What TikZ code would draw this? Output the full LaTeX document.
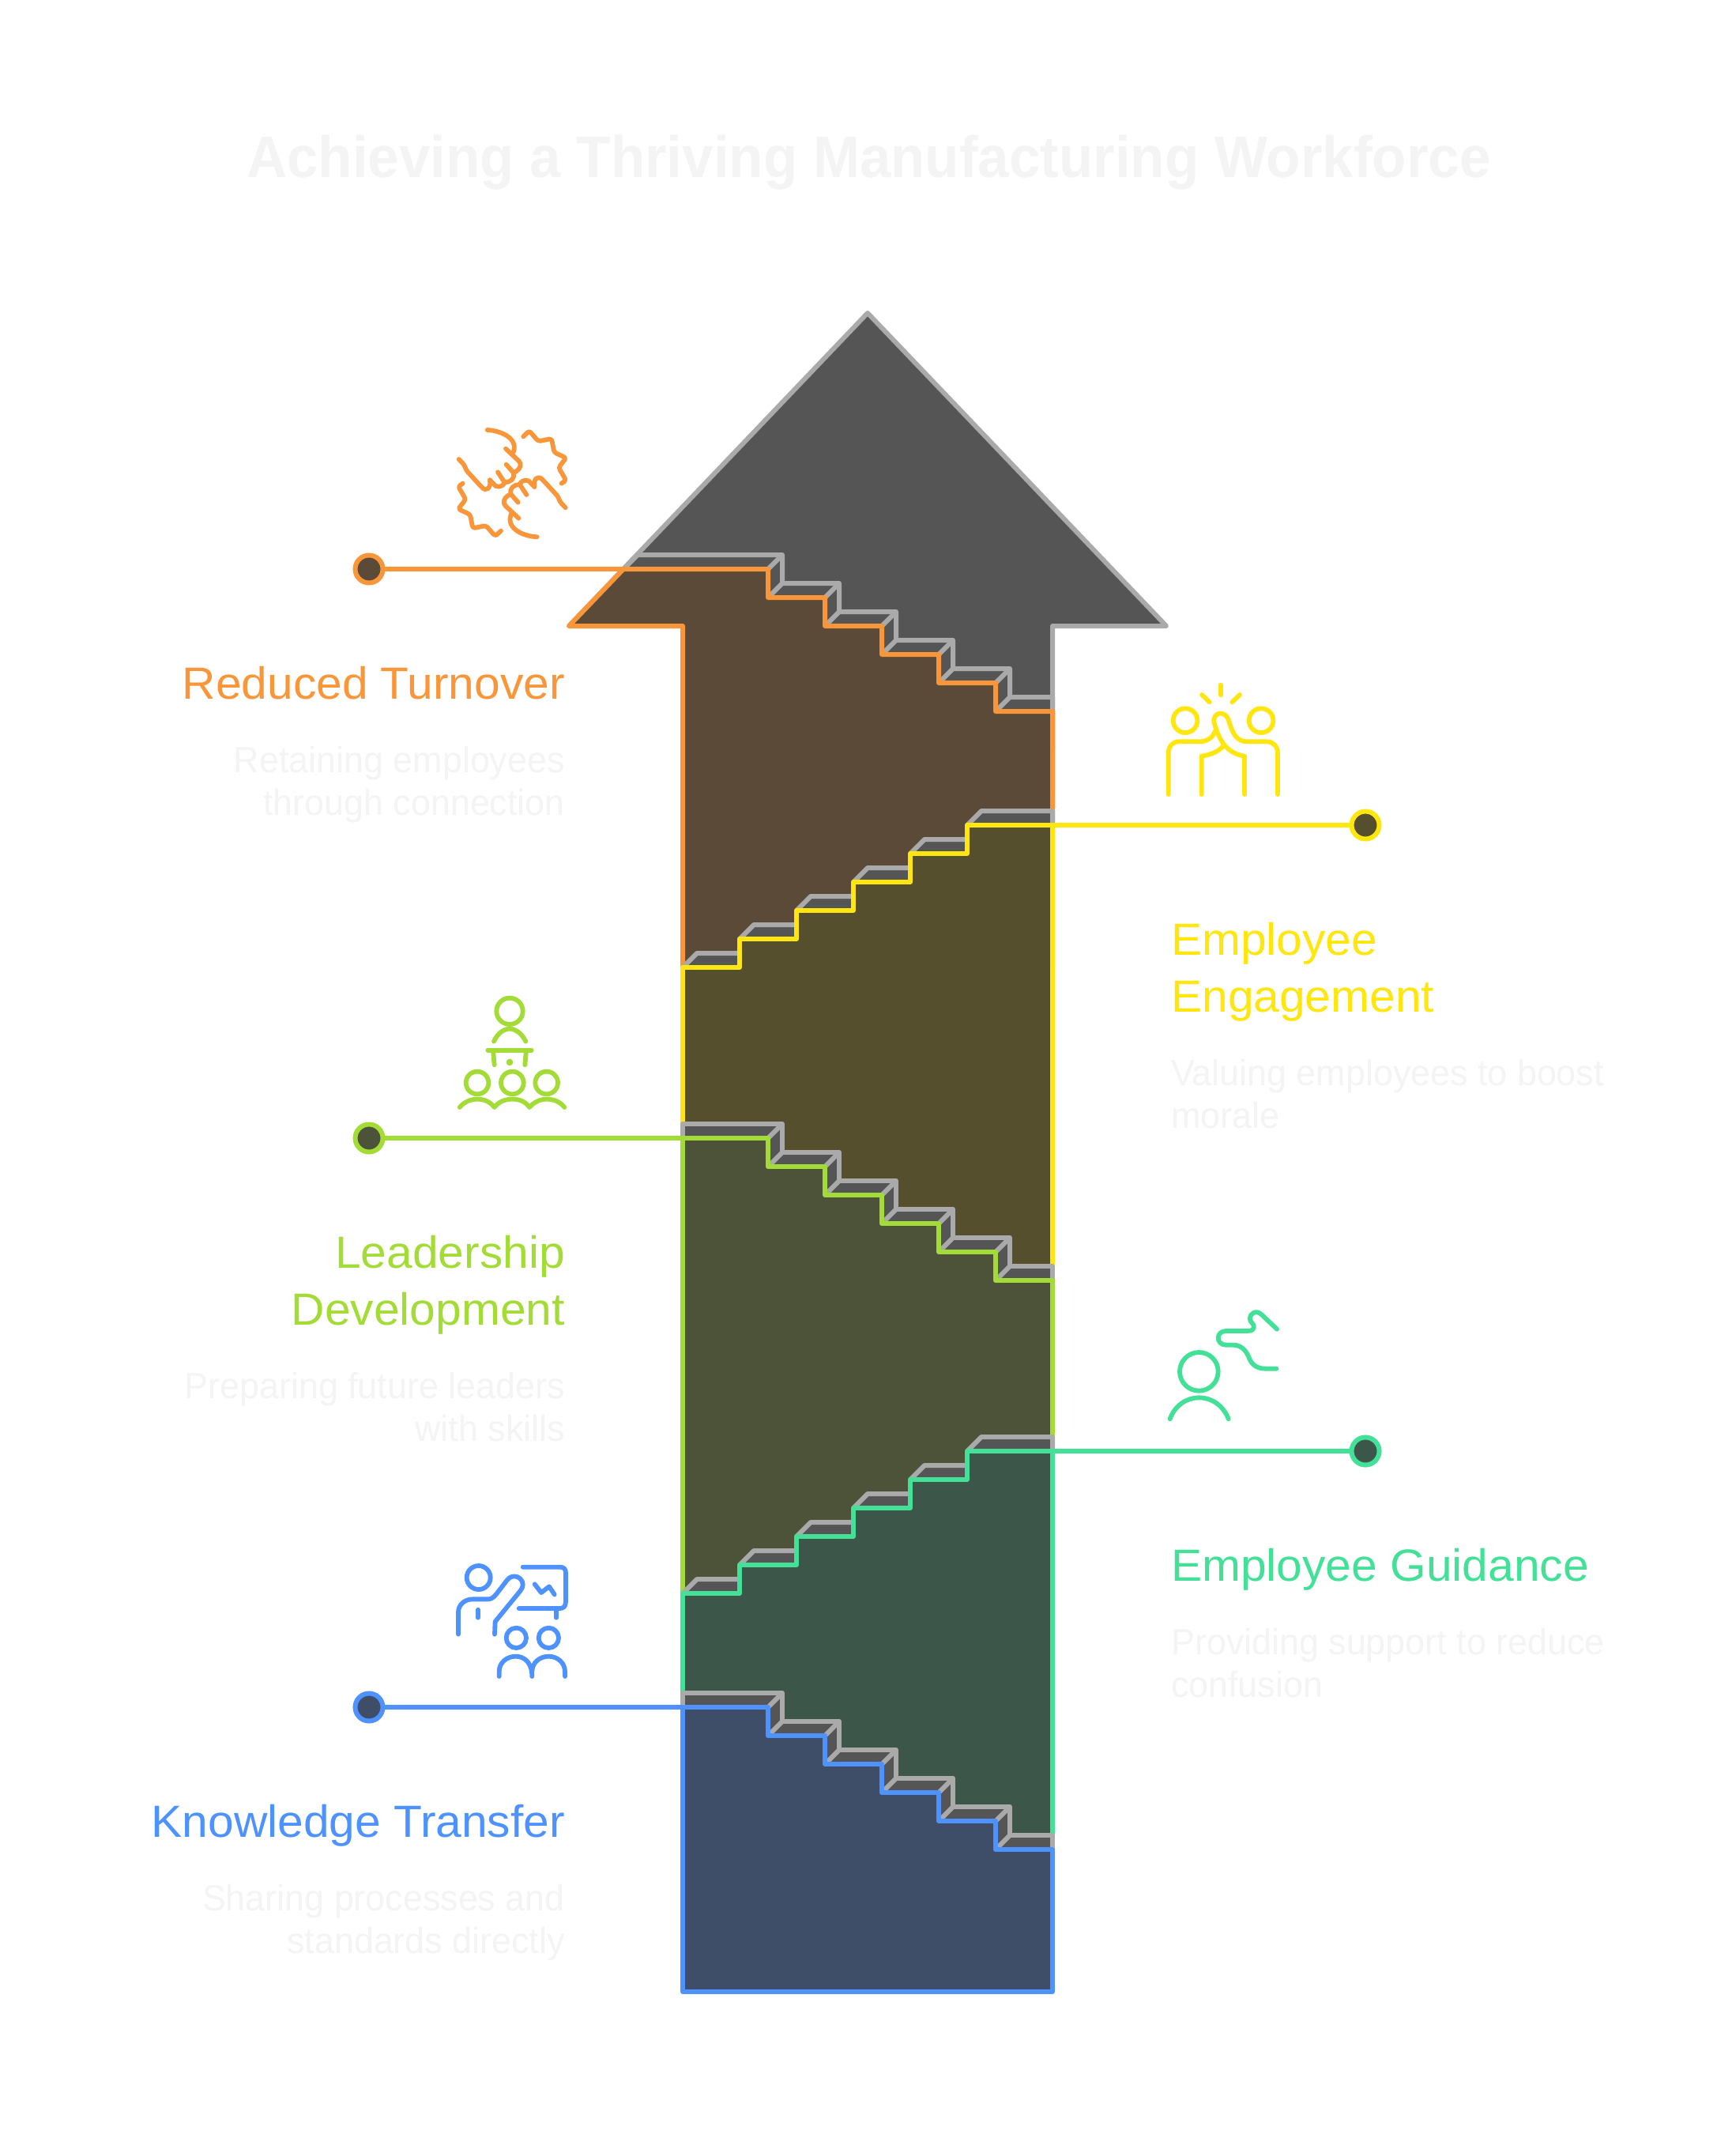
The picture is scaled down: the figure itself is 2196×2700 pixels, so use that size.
\documentclass[tikz,border=0pt]{standalone}
\usepackage{fontspec}
\setmainfont{Liberation Sans}
\newfontfamily\titlefont[FakeStretch=0.958]{Liberation Sans}
\newfontfamily\headfont[FakeStretch=1.03]{Liberation Sans}
\newfontfamily\bodyfont[FakeStretch=0.975]{Liberation Sans}
\definecolor{orangeline}{HTML}{F9963A}
\definecolor{orangefill}{HTML}{5C4A38}
\definecolor{yellowline}{HTML}{FFE60F}
\definecolor{yellowfill}{HTML}{554F2E}
\definecolor{limeline}{HTML}{A3DB37}
\definecolor{limefill}{HTML}{4D5339}
\definecolor{greenline}{HTML}{43E097}
\definecolor{greenfill}{HTML}{3C5649}
\definecolor{blueline}{HTML}{4E92FF}
\definecolor{bluefill}{HTML}{3E4D68}
\definecolor{stepfill}{HTML}{555555}
\definecolor{stepline}{HTML}{AAAAAA}
\definecolor{faint}{HTML}{F4F4F4}
% one flight of stairs, walked from the first corner
\newcommand{\downflight}{-- ++(0,36) -- ++(72,0) -- ++(0,36) -- ++(72,0) -- ++(0,36) -- ++(72,0)
  -- ++(0,36) -- ++(72,0) -- ++(0,36) -- ++(72,0)}
\newcommand{\upflight}{-- ++(72,0) -- ++(0,-36) -- ++(72,0) -- ++(0,-36) -- ++(72,0) -- ++(0,-36)
  -- ++(72,0) -- ++(0,-36) -- ++(72,0) -- ++(0,-36) -- ++(108,0)}
\newcommand{\downback}{-- ++(0,36) -- ++(72,0) -- ++(0,36) -- ++(72,0) -- ++(0,36) -- ++(72,0)
  -- ++(0,36) -- ++(72,0) -- ++(0,36) -- ++(54,0)}
\newcommand{\downlinks}[1]{\foreach \i in {0,...,4}{
  \draw[stepedge] (972+72*\i,#1+36*\i) -- ++(18,-18);
  \draw[stepedge] (972+72*\i,#1+36+36*\i) -- ++(18,-18);}}
\newcommand{\uptreads}[1]{\foreach \i in {0,...,4}{
  \draw[stepedge,fill=stepfill] (864+72*\i,#1-36*\i) -- ++(18,-18) -- ++(54,0) -- ++(0,18) -- cycle;}
  \draw[stepedge,fill=stepfill] (1224,#1-180) -- ++(18,-18) -- ++(90,0) -- ++(0,18) -- cycle;}
\begin{document}
\begin{tikzpicture}[x=1pt,y=-1pt,
  stepedge/.style={draw=stepline, line width=6pt, line join=round},
  band/.style 2 args={draw=#1, fill=#2, line width=6pt, line join=round},
  leader/.style={draw=#1, line width=6pt},
  dot/.style 2 args={circle, draw=#1, fill=#2, line width=6pt, inner sep=0pt,
    minimum size=35pt, outer sep=0pt},
  icon/.style={draw=#1, line width=5.8pt, line cap=round, line join=round},
  heading/.style={text=#1, inner sep=0pt, font=\headfont\fontsize{57}{72}\selectfont},
  headl/.style={heading=#1, anchor=base east, align=right},
  headr/.style={heading=#1, anchor=base west, align=left},
  bodyl/.style={text=faint, inner sep=0pt, anchor=base east, align=right,
    font=\bodyfont\fontsize{46}{54}\selectfont},
  bodyr/.style={text=faint, inner sep=0pt, anchor=base west, align=left,
    font=\bodyfont\fontsize{46}{54}\selectfont}
]
  \useasboundingbox[fill=white] (0,0) rectangle (2196,2700);
  \node[text=faint, inner sep=0pt, anchor=base west, font=\titlefont\bfseries\fontsize{74}{74}\selectfont]
        (title) at (312,224) {Achieving a Thriving Manufacturing Workforce};
  % the arrow, then the bands from top to bottom
  \draw[stepedge, fill=stepfill] (1098,396) -- (1476,792) -- (1332,792) -- (1332,1000)
        -- (864,1000) -- (864,792) -- (720,792) -- cycle;
  \draw[stepedge, fill=stepfill] (789,720) -- (807,702) -- (990,702) \downback -- (1332,950)
        -- (864,950) -- (864,792) -- cycle;
  \downlinks{720}
  \draw[band={orangeline}{orangefill}] (720,792) -- (789,720) -- (972,720) \downflight -- (1332,1224)
        -- (864,1224) -- (864,792) -- cycle;
  \uptreads{1224}
  \draw[band={yellowline}{yellowfill}] (864,1224) \upflight -- (1332,1620) -- (864,1620) -- cycle;
  \draw[stepedge, fill=stepfill] (864,1440) -- (864,1422) -- (990,1422) \downback -- (1332,1620)
        -- (864,1620) -- cycle;
  \downlinks{1440}
  \draw[band={limeline}{limefill}] (864,1440) -- (972,1440) \downflight -- (1332,2016) -- (864,2016) -- cycle;
  \uptreads{2016}
  \draw[band={greenline}{greenfill}] (864,2016) \upflight -- (1332,2340) -- (864,2340) -- cycle;
  \draw[stepedge, fill=stepfill] (864,2160) -- (864,2142) -- (990,2142) \downback -- (1332,2340)
        -- (864,2340) -- cycle;
  \downlinks{2160}
  \draw[band={blueline}{bluefill}] (864,2160) -- (972,2160) \downflight -- (1332,2520) -- (864,2520) -- cycle;
  % leaders
  \coordinate (turnoverend) at (789,720);
  \coordinate (engageend) at (1332,1044);
  \coordinate (leaderend) at (864,1440);
  \coordinate (guideend) at (1332,1836);
  \coordinate (transferend) at (864,2160);
  \node[dot={orangeline}{orangefill}] (turnoverdot) at (467,720) {};
  \node[dot={yellowline}{yellowfill}] (engagedot) at (1728,1044) {};
  \node[dot={limeline}{limefill}] (leaderdot) at (467,1440) {};
  \node[dot={greenline}{greenfill}] (guidedot) at (1728,1836) {};
  \node[dot={blueline}{bluefill}] (transferdot) at (467,2160) {};
  \draw[leader=orangeline] (turnoverdot) -- (turnoverend);
  \draw[leader=yellowline] (engagedot) -- (engageend);
  \draw[leader=limeline] (leaderdot) -- (leaderend);
  \draw[leader=greenline] (guidedot) -- (guideend);
  \draw[leader=blueline] (transferdot) -- (transferend);
  % texts, placed at their last baseline
  \node[headl=orangeline] (turnoverhead) at (715,884) {Reduced Turnover};
  \node[bodyl] (turnoverbody) at (715,1031) {Retaining employees\\through connection};
  \node[headr=yellowline] (engagehead) at (1482,1280) {Employee\\Engagement};
  \node[bodyr] (engagebody) at (1482,1427) {Valuing employees to boost\\morale};
  \node[headl=limeline] (leaderhead) at (715,1676) {Leadership\\Development};
  \node[bodyl] (leaderbody) at (715,1823) {Preparing future leaders\\with skills};
  \node[headr=greenline] (guidehead) at (1482,2000) {Employee Guidance};
  \node[bodyr] (guidebody) at (1482,2147) {Providing support to reduce\\confusion};
  \node[headl=blueline] (transferhead) at (715,2324) {Knowledge Transfer};
  \node[bodyl] (transferbody) at (715,2471) {Sharing processes and\\standards directly};
  % icons, in the pixels of a 3x crop
  \begin{scope}[shift={(540,520)},scale=1/3]
    \draw[icon=orangeline] (230,72) .. controls (290,75) and (355,110) .. (325,165);
    \draw[icon=orangeline, rounded corners=3pt] (122,183) -- (143,205) -- (150,225) -- (205,285)
          .. controls (225,305) and (245,295) .. (240,262);
    \draw[icon=orangeline] (240,262) -- (262,285) .. controls (280,292) and (295,280) .. (295,270);
    \draw[icon=orangeline] (270,232) -- (295,270) .. controls (320,272) and (335,255) .. (330,235);
    \draw[icon=orangeline] (302,203) -- (330,235) .. controls (360,220) and (360,200) .. (350,190);
    \draw[icon=orangeline] (300,143) -- (350,190);
    \draw[icon=orangeline, rounded corners=3pt] (137,275) -- (120,287) -- (148,335) -- (120,372) -- (165,393) -- (175,445)
          -- (225,435) -- (260,475) -- (282,455);
    \draw[icon=orangeline] (419,478) .. controls (359,475) and (294,440) .. (324,385);
    \draw[icon=orangeline, rounded corners=3pt] (527,367) -- (506,345) -- (499,325) -- (444,265)
          .. controls (424,245) and (404,255) .. (409,288);
    \draw[icon=orangeline] (409,288) -- (387,265) .. controls (369,258) and (354,270) .. (354,280);
    \draw[icon=orangeline] (379,318) -- (354,280) .. controls (329,278) and (314,295) .. (319,315);
    \draw[icon=orangeline] (347,347) -- (319,315) .. controls (289,330) and (289,350) .. (299,360);
    \draw[icon=orangeline] (349,407) -- (299,360);
    \draw[icon=orangeline, rounded corners=3pt] (512,275) -- (529,263) -- (501,215) -- (529,178) -- (484,157) -- (474,105)
          -- (424,115) -- (389,75) -- (367,97);
  \end{scope}
  \begin{scope}[shift={(1440,850)},scale=1/3]
    \draw[icon=yellowline] (180,185) circle (46);
    \draw[icon=yellowline] (468,185) circle (46);
    \draw[icon=yellowline] (315,50) -- (315,88);
    \draw[icon=yellowline] (243,87) -- (272,115);
    \draw[icon=yellowline] (387,87) -- (358,115);
    \draw[icon=yellowline] (116,465) -- (116,310) .. controls (116,285) and (130,265) .. (155,265)
          -- (235,265) .. controls (270,265) and (292,240) .. (297,215);
    \draw[icon=yellowline] (405,465) -- (405,320) .. controls (340,310) and (310,265) .. (290,195)
          .. controls (280,150) and (335,145) .. (345,185)
          .. controls (360,235) and (375,265) .. (415,265) -- (490,265)
          .. controls (515,265) and (531,285) .. (531,310) -- (531,465);
    \draw[icon=yellowline] (242,465) -- (242,320) .. controls (280,315) and (310,300) .. (325,280);
  \end{scope}
  \begin{scope}[shift={(560,1240)},scale=1/3]
    \draw[icon=limeline] (255,118) circle (50);
    \draw[icon=limeline] (195,233) .. controls (210,200) and (235,185) .. (255,185)
          .. controls (275,185) and (300,200) .. (316,233);
    \draw[icon=limeline] (172,266) -- (338,266);
    \draw[icon=limeline] (192,266) -- (197,322);
    \draw[icon=limeline] (318,266) -- (313,322);
    \fill[limeline] (255,312) circle (13);
    \draw[icon=limeline] (132,390) circle (43);
    \draw[icon=limeline] (265,390) circle (43);
    \draw[icon=limeline] (395,390) circle (43);
    \draw[icon=limeline] (65,483) .. controls (85,460) and (110,452) .. (132,452)
          .. controls (155,452) and (180,460) .. (197,483)
          .. controls (215,460) and (240,452) .. (265,452)
          .. controls (290,452) and (315,460) .. (330,483)
          .. controls (350,460) and (375,452) .. (395,452)
          .. controls (420,452) and (445,460) .. (463,483);
  \end{scope}
  \begin{scope}[shift={(1460,1640)},scale=1/3]
    \draw[icon=greenline] (172,286) circle (73);
    \draw[icon=greenline] (62,466) .. controls (80,415) and (125,385) .. (172,385)
          .. controls (220,385) and (265,415) .. (284,466);
    \draw[icon=greenline] (468,125) -- (410,70) .. controls (390,50) and (365,65) .. (365,85)
          .. controls (365,100) and (385,105) .. (380,120) .. controls (375,132) and (365,132) .. (355,132)
          -- (275,132) .. controls (235,132) and (235,185) .. (275,185) -- (300,185)
          .. controls (340,185) and (355,215) .. (365,240) .. controls (375,262) and (395,275) .. (425,275)
          -- (466,275);
  \end{scope}
  \begin{scope}[shift={(560,1960)},scale=1/3]
    \draw[icon=blueline] (137,108) circle (45);
    \draw[icon=blueline] (60,323) -- (60,240) .. controls (60,210) and (85,190) .. (115,190) -- (175,190)
          .. controls (190,190) and (200,175) .. (205,170) -- (245,118)
          .. controls (265,90) and (305,105) .. (305,135) .. controls (305,148) and (295,158) .. (290,165)
          -- (200,275) -- (198,323);
    \draw[icon=blueline] (135,230) -- (135,260);
    \draw[icon=blueline] (305,68) -- (445,68) .. controls (460,68) and (468,75) .. (468,90) -- (468,200)
          .. controls (468,218) and (458,225) .. (445,225) -- (290,225);
    \draw[icon=blueline] (432,225) -- (432,260);
    \draw[icon=blueline] (350,133) -- (375,165) -- (405,142) -- (425,172);
    \draw[icon=blueline] (280,337) circle (38);
    \draw[icon=blueline] (403,337) circle (38);
    \draw[icon=blueline] (215,483) -- (215,465) .. controls (215,430) and (245,407) .. (278,407)
          .. controls (310,407) and (340,430) .. (340,483);
    \draw[icon=blueline] (340,465) .. controls (340,430) and (370,407) .. (403,407)
          .. controls (435,407) and (465,430) .. (465,465) -- (465,483);
  \end{scope}
\end{tikzpicture}
\end{document}
